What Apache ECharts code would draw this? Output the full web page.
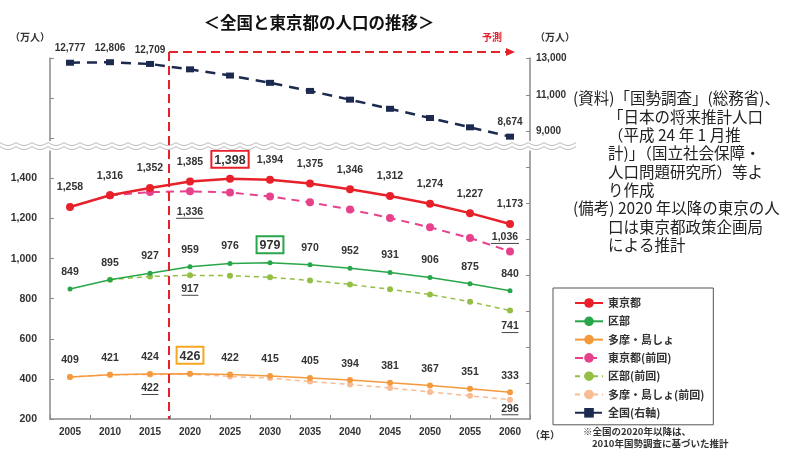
<!DOCTYPE html>
<html><head><meta charset="utf-8">
<script src="https://cdn.jsdelivr.net/npm/echarts@6/dist/echarts.min.js"></script>
<style>html,body{margin:0;padding:0;background:#fff}#c{width:799px;height:465px}</style>
</head><body><div id="c"></div>
<script>
// ---- data ----
const years = ['2005','2010','2015','2020','2025','2030','2035','2040','2045','2050','2055','2060'];
const tokyo = [1258,1316,1352,1385,1398,1394,1375,1346,1312,1274,1227,1173];
const ku = [849,895,927,959,976,979,970,952,931,906,875,840];
const tama = [409,421,424,426,422,415,405,394,381,367,351,333];
const tokyoPrev = [null,1316,1332,1336,1330,1310,1281,1245,1203,1156,1103,1036];
const kuPrev = [null,895,911,917,915,907,891,871,847,821,785,741];
const tamaPrev = [409,421,422,424,412,404,387,372,355,335,316,296];
const zenkoku = [12777,12806,12709,12410,12066,11662,11212,10728,10221,9708,9193,8674];
const leftTicks = [200,400,600,800,1000,1200,1400];
const rightTicks = [9000,11000,13000];
const names = ['東京都','区部','多摩・島しょ','東京都(前回)','区部(前回)','多摩・島しょ(前回)','全国(右軸)'];
const noteLines = ['(資料)「国勢調査」(総務省)、','「日本の将来推計人口','（平成 24 年 1 月推','計)」（国立社会保障・','人口問題研究所）等よ','り作成','(備考) 2020 年以降の東京の人','口は東京都政策企画局','による推計'];

const fmt = v => Number(v).toLocaleString('en-US');
const NUMFONT = 'Liberation Sans';
const CJK = 'Noto Sans CJK JP';

function prevData(arr, spec){
  return arr.map((v,i)=>{
    if(!(i in spec)) return v;
    const s = spec[i];
    return {value:v, label:{show:true, position:s.pos, distance:s.d, offset:s.off||[0,0],
      formatter: p => '{n|'+fmt(p.value)+'}\n{u| }',
      rich:{n:{fontSize:10.5,color:'#333',fontFamily:NUMFONT,fontWeight:'bold',align:'center',lineHeight:10},
            u:{width:fmt(v).length*5.6,height:1,lineHeight:2,backgroundColor:'#444',align:'center'}}}};
  });
}
function boxed(arr, idx, color){
  return arr.map((v,i)=> i===idx ? {value:v,label:{borderColor:color,borderWidth:2,padding:[3,3,1,3],fontSize:12.5,distance:7}} : v);
}
const lblBase = (d)=>({show:true,position:'top',distance:d,formatter:p=>fmt(p.value),fontSize:10.5,color:'#333',fontFamily:NUMFONT,fontWeight:'bold'});

const chart = echarts.init(document.getElementById('c'));
const axisLine = {show:true,lineStyle:{color:'#8a8a8a',width:1.5}};
const option = {
  animation:false,
  backgroundColor:'#fff',
  grid:[{left:50,right:269,top:58,height:89},{left:50,right:269,top:151,height:268}],
  xAxis:[
    {type:'category',gridIndex:0,data:years,show:false,boundaryGap:true},
    {type:'category',gridIndex:1,data:years,boundaryGap:true,axisLine:axisLine,
     axisTick:{show:true,inside:true,length:4,lineStyle:{color:'#8a8a8a'}},
     axisLabel:{fontSize:10,color:'#333',fontFamily:NUMFONT,fontWeight:'bold',margin:8}}
  ],
  yAxis:[
    {type:'value',gridIndex:0,position:'left',min:1555,max:2000,axisLine:axisLine,splitLine:{show:false},
     axisTick:{show:true,inside:true,length:4,customValues:[1600,1800,2000],lineStyle:{color:'#8a8a8a'}},axisLabel:{show:false}},
    {type:'value',gridIndex:0,position:'right',min:8100,max:13040,axisLine:axisLine,splitLine:{show:false},
     axisTick:{show:true,inside:true,length:4,customValues:rightTicks,lineStyle:{color:'#8a8a8a'}},
     axisLabel:{show:true,customValues:rightTicks,formatter:v=>fmt(v),fontSize:10,color:'#333',fontFamily:NUMFONT,fontWeight:'bold',margin:6}},
    {type:'value',gridIndex:1,position:'left',min:200,max:1537,axisLine:axisLine,splitLine:{show:false},
     axisTick:{show:true,inside:true,length:4,customValues:leftTicks,lineStyle:{color:'#8a8a8a'}},
     axisLabel:{customValues:leftTicks,formatter:v=>fmt(v),fontSize:10.5,color:'#333',fontFamily:NUMFONT,fontWeight:'bold',margin:13}},
    {type:'value',gridIndex:1,position:'right',min:0,max:7.44,axisLine:axisLine,splitLine:{show:false},
     axisTick:{show:true,inside:true,length:4,customValues:[1,2,3,4,5,6,7],lineStyle:{color:'#8a8a8a'}},axisLabel:{show:false}}
  ],
  legend:{orient:'vertical',left:553,top:288,padding:[9,9,6,21],itemWidth:28,itemHeight:12,itemGap:6.3,
    borderColor:'#555',borderWidth:1,data:names,
    textStyle:{fontSize:11,fontWeight:'bold',color:'#333',fontFamily:CJK,lineHeight:12}},
  series:[
    {name:'多摩・島しょ(前回)',type:'line',xAxisIndex:1,yAxisIndex:2,z:2,
     data:prevData(tamaPrev,{2:{pos:'bottom',d:6},11:{pos:'bottom',d:1}}),
     symbol:'circle',symbolSize:6,itemStyle:{color:'#f8bb93'},lineStyle:{color:'#f8bb93',width:1.5,type:[5,4]}},
    {name:'区部(前回)',type:'line',xAxisIndex:1,yAxisIndex:2,z:2,
     data:prevData(kuPrev,{3:{pos:'bottom',d:6},11:{pos:'bottom',d:8}}),
     symbol:'circle',symbolSize:6,itemStyle:{color:'#94bf45'},lineStyle:{color:'#94bf45',width:1.5,type:[5,4]}},
    {name:'東京都(前回)',type:'line',xAxisIndex:1,yAxisIndex:2,z:2,
     data:prevData(tokyoPrev,{3:{pos:'bottom',d:12},11:{pos:'top',d:3,off:[-5,0]}}),
     symbol:'circle',symbolSize:8,itemStyle:{color:'#e8418c'},lineStyle:{color:'#e8418c',width:2,type:[8,6]}},
    {name:'多摩・島しょ',type:'line',xAxisIndex:1,yAxisIndex:2,z:3,data:boxed(tama,3,'#f6a623'),
     symbol:'circle',symbolSize:6,itemStyle:{color:'#f59a3c'},lineStyle:{color:'#f59a3c',width:1.5},label:lblBase(8)},
    {name:'区部',type:'line',xAxisIndex:1,yAxisIndex:2,z:3,data:boxed(ku,5,'#27a64a'),
     symbol:'circle',symbolSize:5,itemStyle:{color:'#27a64a'},lineStyle:{color:'#27a64a',width:1.5},label:lblBase(9)},
    {name:'東京都',type:'line',xAxisIndex:1,yAxisIndex:2,z:4,data:boxed(tokyo,4,'#e8202a'),
     symbol:'circle',symbolSize:8,itemStyle:{color:'#e8202a'},lineStyle:{color:'#e8202a',width:2.5},label:lblBase(10)},
    {name:'全国(右軸)',type:'line',xAxisIndex:0,yAxisIndex:1,z:4,
     data:zenkoku.map((v,i)=>({value:v,label:{show:[0,1,2,11].includes(i)}})),
     symbol:'rect',symbolSize:[8,6],itemStyle:{color:'#1c2a4f'},lineStyle:{color:'#1c2a4f',width:2.5,type:[10,7]},
     label:{show:false,position:'top',distance:6,formatter:p=>fmt(p.value),fontSize:10,color:'#333',fontFamily:NUMFONT,fontWeight:'bold'}}
  ]
};
chart.setOption(option);

// ---- decorations computed from the axes ----
const xA = chart.convertToPixel({xAxisIndex:1},'2015');
const xB = chart.convertToPixel({xAxisIndex:1},'2020');
const xSplit = (xA+xB)/2 - 1;
const yBottom = chart.convertToPixel({yAxisIndex:2},200);
const xEnd = chart.convertToPixel({xAxisIndex:1},'2060');
const arrowY = 52;

function scallop(y0,x0,x1,w,amp){
  const pts=[];
  for(let x=x0;x<x1;x+=w){
    for(let k=0;k<=8;k++){const t=k/8;pts.push([x+t*w,y0+amp*Math.sin(Math.PI*t)]);}
  }
  return pts;
}
const red='#e8202a';
const g=[
  {type:'rect',z:50,shape:{x:0,y:141,width:562,height:9},style:{fill:'#fff'}},
  {type:'polyline',z:51,shape:{points:scallop(142.5,0,562,16,3)},style:{stroke:'#bdbdbd',lineWidth:1,fill:null}},
  {type:'polyline',z:51,shape:{points:scallop(146.5,0,562,16,3)},style:{stroke:'#bdbdbd',lineWidth:1,fill:null}},
  {type:'line',z:60,shape:{x1:xSplit,y1:arrowY,x2:xSplit,y2:yBottom},style:{stroke:red,lineWidth:2,lineDash:[9,5]}},
  {type:'line',z:60,shape:{x1:xSplit,y1:arrowY,x2:xEnd-2,y2:arrowY},style:{stroke:red,lineWidth:2,lineDash:[9,5]}},
  {type:'polygon',z:60,shape:{points:[[xEnd-4,arrowY-4],[xEnd+5,arrowY],[xEnd-4,arrowY+4]]},style:{fill:red}},
  {type:'text',z:60,style:{text:'予測',x:xEnd-18,y:37,fill:red,font:'bold 10px '+CJK,textAlign:'center',textVerticalAlign:'middle'}},
  {type:'text',style:{text:'＜全国と東京都の人口の推移＞',x:319,y:23,fill:'#111',font:'bold 16.5px '+CJK,textAlign:'center',textVerticalAlign:'middle'}},
  {type:'text',style:{text:'（万人）',x:30,y:37,fill:'#333',font:'bold 10px '+CJK,textAlign:'center',textVerticalAlign:'middle'}},
  {type:'text',style:{text:'（万人）',x:555,y:37,fill:'#333',font:'bold 10px '+CJK,textAlign:'center',textVerticalAlign:'middle'}},
  {type:'text',style:{text:'（年）',x:545,y:435,fill:'#333',font:'bold 10px '+CJK,textAlign:'center',textVerticalAlign:'middle'}},
  {type:'text',style:{text:'※全国の2020年以降は、',x:583,y:431,fill:'#333',font:'bold 9.5px '+CJK,textAlign:'left',textVerticalAlign:'middle'}},
  {type:'text',style:{text:'2010年国勢調査に基づいた推計',x:592,y:443,fill:'#333',font:'bold 9.5px '+CJK,textAlign:'left',textVerticalAlign:'middle'}}
];
const noteY=[98,117,135,153,172,190,208,227,245];
const noteX=[573,608,608,608,608,608,573,608,608];
noteLines.forEach((t,i)=>g.push({type:'text',style:{text:t,x:noteX[i],y:noteY[i],fill:'#222',font:'15.5px '+CJK,textAlign:'left',textVerticalAlign:'middle'}}));
chart.setOption({graphic:g});
</script></body></html>
